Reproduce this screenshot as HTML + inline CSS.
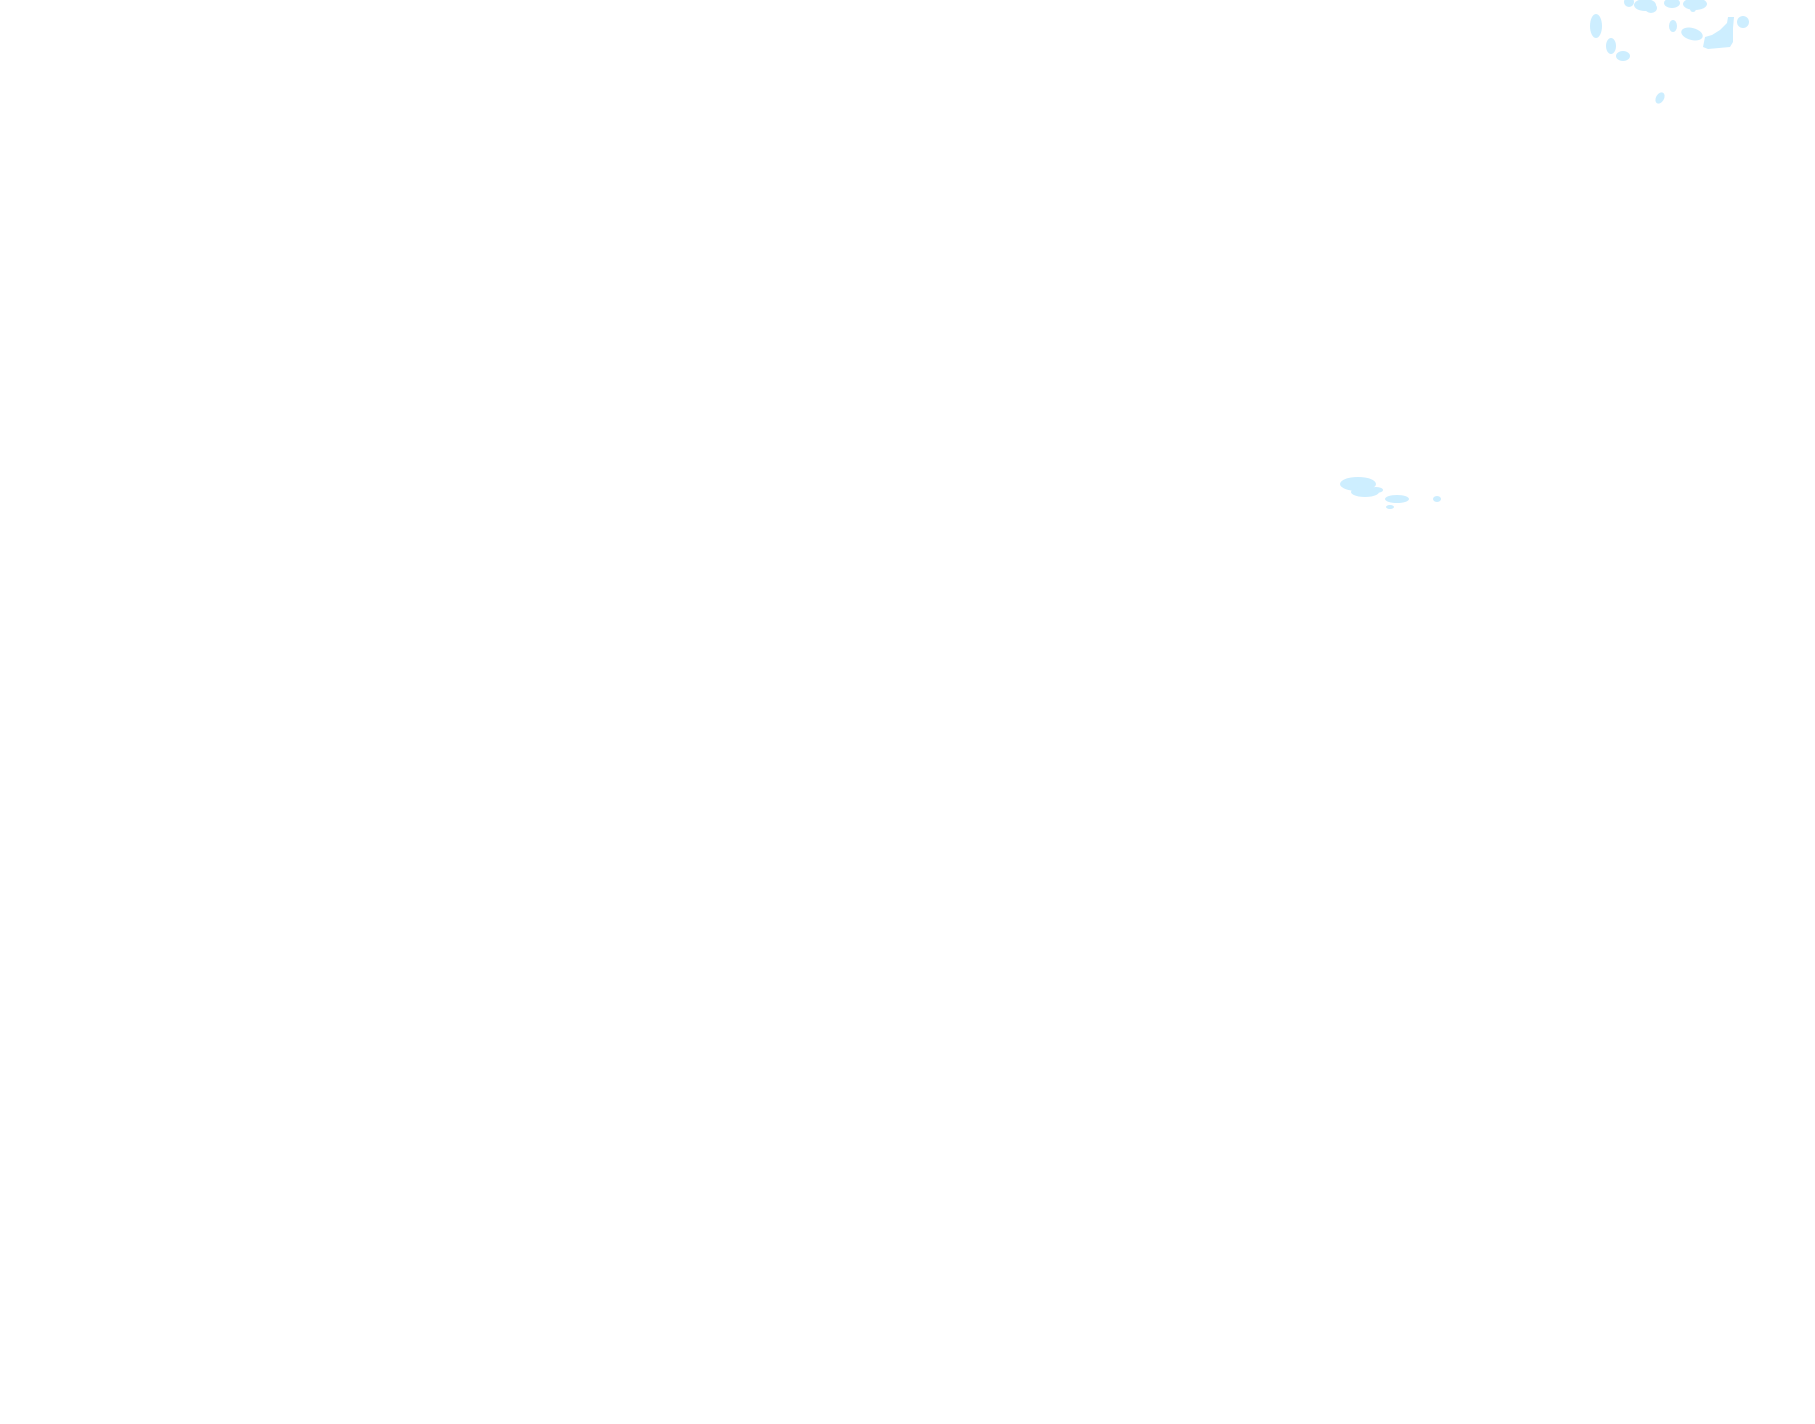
<!DOCTYPE html>
<html><head><meta charset="utf-8"><style>html,body{margin:0;padding:0;background:#fff;width:1815px;height:1424px;overflow:hidden}</style></head>
<body>
<svg width="1815" height="1424" viewBox="0 0 1815 1424" xmlns="http://www.w3.org/2000/svg">
<rect width="1815" height="1424" fill="#fff"/>
<g fill="#cdeeff">
<ellipse cx="1629" cy="2" rx="5" ry="5"/>
<ellipse cx="1645" cy="5" rx="11" ry="6"/>
<ellipse cx="1651" cy="8" rx="6" ry="5"/>
<ellipse cx="1672" cy="3" rx="8" ry="5"/>
<ellipse cx="1695" cy="4" rx="12" ry="6"/>
<ellipse cx="1693" cy="9" rx="3" ry="3"/>
<ellipse cx="1596" cy="26" rx="6" ry="12"/>
<ellipse cx="1611" cy="46" rx="5" ry="8"/>
<ellipse cx="1623" cy="56" rx="7" ry="5"/>
<ellipse cx="1673" cy="26" rx="4" ry="6"/>
<ellipse cx="1692" cy="34" rx="11" ry="6" transform="rotate(15 1692 34)"/>
<polygon points="1703,47 1705,37 1712,35 1720,30 1727,23 1728,17 1734,17 1733,28 1733,42 1730,47 1708,49"/>
<ellipse cx="1743" cy="22" rx="6" ry="6"/>
<ellipse cx="1660" cy="98" rx="4" ry="6" transform="rotate(30 1660 98)"/>
<ellipse cx="1358" cy="484" rx="18" ry="7"/>
<ellipse cx="1365" cy="492" rx="14" ry="5"/>
<ellipse cx="1376" cy="490" rx="7" ry="3"/>
<ellipse cx="1397" cy="499" rx="12" ry="4"/>
<ellipse cx="1390" cy="507" rx="4" ry="2"/>
<ellipse cx="1437" cy="499" rx="4" ry="3"/>
</g>
</svg>
</body></html>
